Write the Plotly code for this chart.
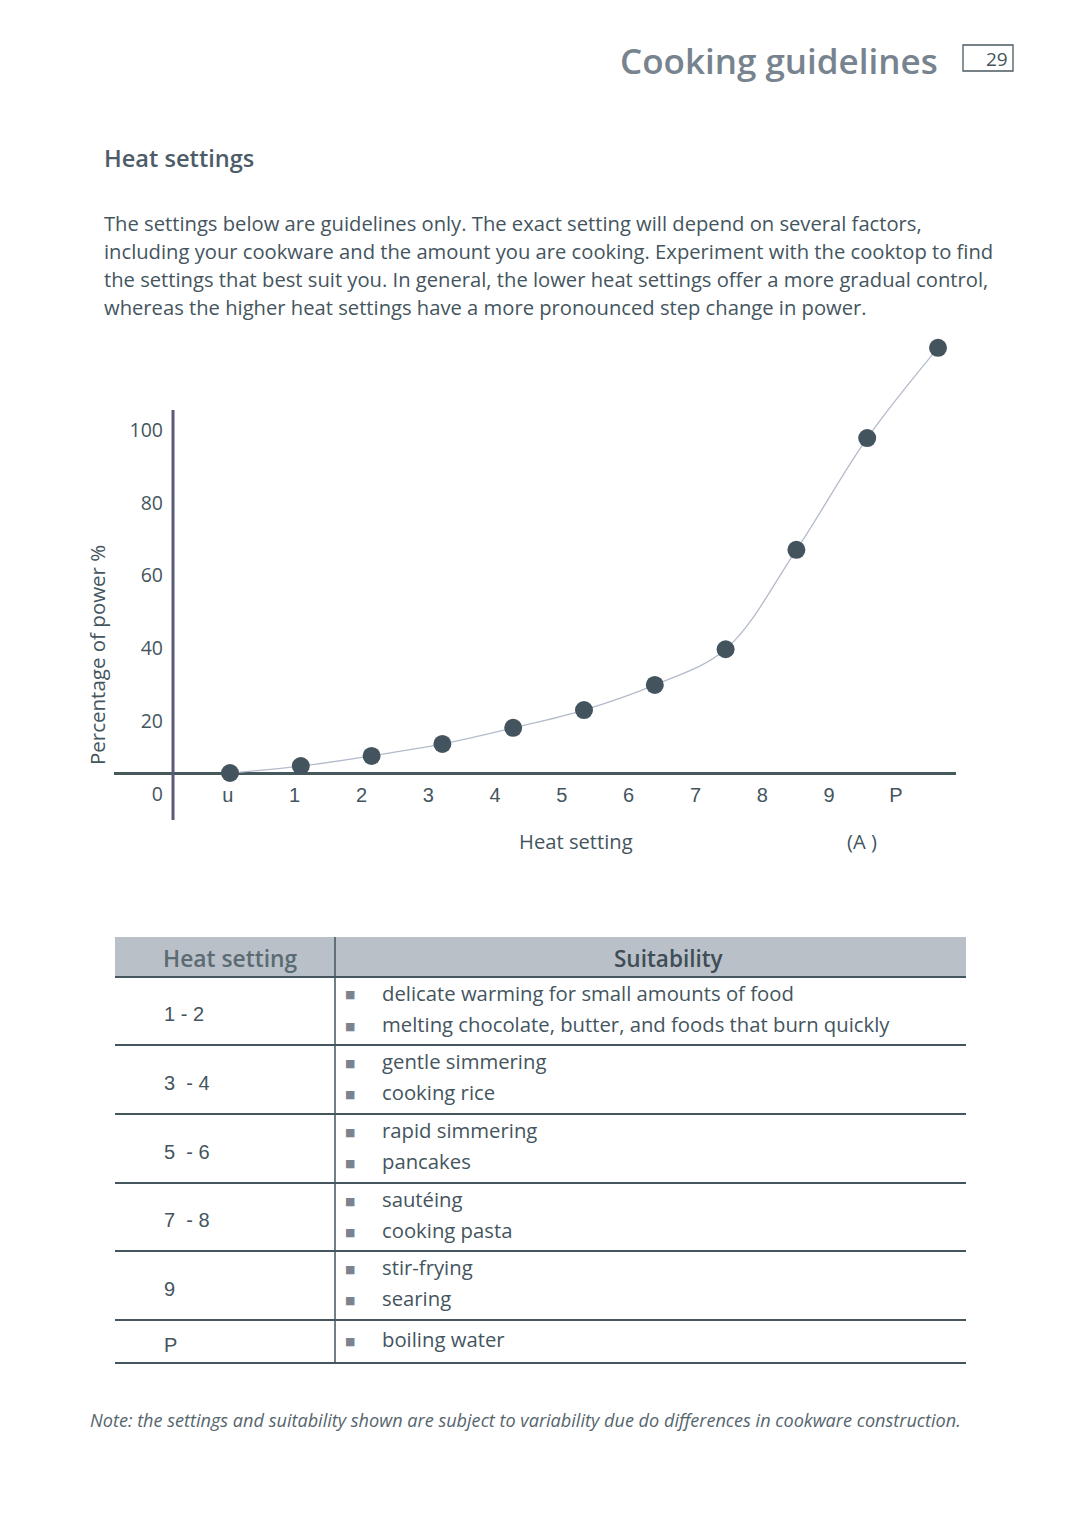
import plotly.graph_objects as go

# ---------------- data ----------------
settings = ["u", "1", "2", "3", "4", "5", "6", "7", "8", "9", "P"]
power_pct = [0, 1.9, 4.7, 8.0, 12.4, 17.3, 24.2, 34.0, 61.3, 92.0, 116.8]
y_ticks = [0, 20, 40, 60, 80, 100]

table_settings = ["1 - 2", "3  - 4", "5  - 6", "7  - 8", "9", "P"]
table_suitability = [
    ["delicate warming for small amounts of food",
     "melting chocolate, butter, and foods that burn quickly"],
    ["gentle simmering", "cooking rice"],
    ["rapid simmering", "pancakes"],
    ["sautéing", "cooking pasta"],
    ["stir-frying", "searing"],
    ["boiling water"],
]

paragraph = [
    "The settings below are guidelines only. The exact setting will depend on several factors,",
    "including your cookware and the amount you are cooking. Experiment with the cooktop to find",
    "the settings that best suit you. In general, the lower heat settings offer a more gradual control,",
    "whereas the higher heat settings have a more pronounced step change in power.",
]

# ---------------- layout helpers ----------------
OFF = 8                      # page body margin
W, H = 1080 - OFF, 1532 - OFF
def px(x):
    return (x - OFF) / W
def py(y):
    return 1 - (y - OFF) / H

TXT = "#44555e"
FONT = "Open Sans"

x_idx = list(range(len(settings)))
LABEL_STEP = 0.9435
LABEL_OFF = -0.03
tick_pos = [LABEL_OFF + LABEL_STEP * i for i in x_idx]

fig = go.Figure()
fig.add_trace(go.Scatter(
    x=x_idx, y=power_pct, mode="lines+markers",
    line=dict(shape="spline", smoothing=1.0, color="#b3bbcb", width=1.3),
    marker=dict(size=18, color="#44545e"),
    cliponaxis=False, showlegend=False, hoverinfo="x+y",
))

annotations = []
shapes = []

# Header
annotations.append(dict(x=px(940), y=py(60), xref="paper", yref="paper", text="Cooking guidelines",
                        showarrow=False, xanchor="right", yanchor="middle",
                        font=dict(family=FONT, size=35, color="#77838e", weight=600)))
shapes.append(dict(type="rect", xref="paper", yref="paper", x0=px(963), x1=px(1013), y0=py(45), y1=py(71),
                   line=dict(color="#4a5a62", width=1.3)))
annotations.append(dict(x=px(1010), y=py(59), xref="paper", yref="paper", text="29", showarrow=False,
                        xanchor="right", yanchor="middle", font=dict(family=FONT, size=19, color=TXT)))
annotations.append(dict(x=px(102), y=py(158), xref="paper", yref="paper", text="Heat settings",
                        showarrow=False, xanchor="left", yanchor="middle",
                        font=dict(family=FONT, size=23.6, color="#4d5c68", weight=600)))
for i, line in enumerate(paragraph):
    annotations.append(dict(x=px(102), y=py(223 + 28.1 * i), xref="paper", yref="paper", text=line,
                            showarrow=False, xanchor="left", yanchor="middle",
                            font=dict(family=FONT, size=20.2, color=TXT)))

# Chart labels
annotations.append(dict(x=px(97), y=py(655), xref="paper", yref="paper", text="Percentage of power %",
                        showarrow=False, textangle=-90, xanchor="center", yanchor="middle",
                        font=dict(family=FONT, size=20.5, color=TXT)))
annotations.append(dict(x=px(576), y=py(841), xref="paper", yref="paper", text="Heat setting",
                        showarrow=False, xanchor="center", yanchor="middle",
                        font=dict(family=FONT, size=20.2, color=TXT)))
annotations.append(dict(x=px(862), y=py(841), xref="paper", yref="paper", text="(A )",
                        showarrow=False, xanchor="center", yanchor="middle",
                        font=dict(family=FONT, size=20.2, color=TXT)))
# vertical axis line
shapes.append(dict(type="line", xref="paper", yref="paper", x0=px(173), x1=px(173), y0=py(410), y1=py(820),
                   line=dict(color="#5a5b78", width=3)))

# Table
TL, TR, TD = 115, 966, 335
shapes.append(dict(type="rect", xref="paper", yref="paper", x0=px(TL), x1=px(TR), y0=py(937), y1=py(977),
                   fillcolor="#b9c0c8", line=dict(width=0), layer="below"))
annotations.append(dict(x=px(230), y=py(958), xref="paper", yref="paper", text="Heat setting",
                        showarrow=False, xanchor="center", yanchor="middle",
                        font=dict(family=FONT, size=22.8, color="#5b6b74", weight=600)))
annotations.append(dict(x=px(669), y=py(958), xref="paper", yref="paper", text="Suitability",
                        showarrow=False, xanchor="center", yanchor="middle",
                        font=dict(family=FONT, size=22.5, color="#3e4d56", weight=600)))
row_lines = [977, 1045, 1114, 1183, 1251, 1320, 1363]
for yl in row_lines:
    shapes.append(dict(type="line", xref="paper", yref="paper", x0=px(TL), x1=px(TR), y0=py(yl), y1=py(yl),
                       line=dict(color="#44555e", width=2)))
shapes.append(dict(type="line", xref="paper", yref="paper", x0=px(TD), x1=px(TD), y0=py(937), y1=py(1363),
                   line=dict(color="#44555e", width=1.5)))
for r, (lab, items) in enumerate(zip(table_settings, table_suitability)):
    top, bot = row_lines[r], row_lines[r + 1]
    if len(items) == 2:
        ys = [top + 16, top + 47]
    else:
        ys = [top + 19]
    lab_y = (top + bot) / 2 + 3 if len(items) == 2 else ys[0] + 6
    annotations.append(dict(x=px(162), y=py(lab_y), xref="paper", yref="paper", text=lab,
                            showarrow=False, xanchor="left", yanchor="middle",
                            font=dict(family="Liberation Sans", size=20, color=TXT)))
    for yy, it in zip(ys, items):
        annotations.append(dict(x=px(350), y=py(yy + 2), xref="paper", yref="paper", text="■",
                                showarrow=False, xanchor="center", yanchor="middle",
                                font=dict(family="DejaVu Sans", size=11, color="#7a8490")))
        annotations.append(dict(x=px(380), y=py(yy), xref="paper", yref="paper", text=it,
                                showarrow=False, xanchor="left", yanchor="middle",
                                font=dict(family=FONT, size=20.3, color=TXT)))

annotations.append(dict(x=px(88), y=py(1420), xref="paper", yref="paper",
                        text="<i>Note: the settings and suitability shown are subject to variability due do differences in cookware construction.</i>",
                        showarrow=False, xanchor="left", yanchor="middle",
                        font=dict(family=FONT, size=18.1, color="#55656e")))

# axis geometry: points at index positions, pixel = 230 + 70.8*i ; y 0 at pixel 773, 3.64 px/unit
x0_pix, x_step = 230, 70.8
y0_pix, y_step = 773, 3.64
fig.update_layout(
    width=W, height=H, margin=dict(l=0, r=0, t=0, b=0),
    paper_bgcolor="white", plot_bgcolor="white",
    xaxis=dict(domain=[px(114), px(956)],
               range=[(114 - x0_pix) / x_step, (956 - x0_pix) / x_step],
               tickvals=tick_pos, ticktext=settings, showgrid=False, zeroline=False,
               showline=False, ticks="", anchor="free", position=py(773),
               tickfont=dict(family="Liberation Sans", size=20, color=TXT), ticklabelstandoff=8),
    yaxis=dict(domain=[py(820), py(330)],
               range=[-(820 - y0_pix) / y_step, (y0_pix - 330) / y_step],
               tickvals=y_ticks, showgrid=False, zeroline=True, zerolinecolor="#46595d",
               zerolinewidth=3, showline=False, ticks="", anchor="free", position=px(173),
               ticklabelshift=21, ticklabelstandoff=10,
               tickfont=dict(family=FONT, size=19.5, color=TXT)),
    annotations=annotations, shapes=shapes,
)

fig.write_html("out.html")
